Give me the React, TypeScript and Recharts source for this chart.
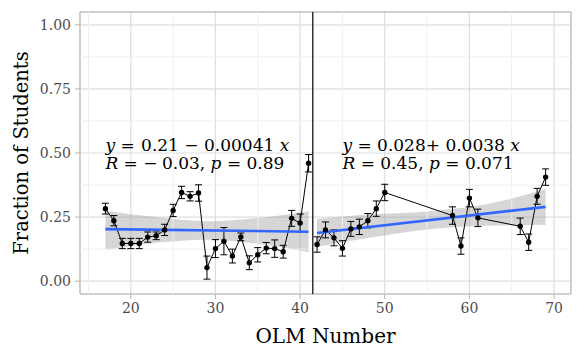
import React from "react";
import {
  ComposedChart,
  Line,
  Area,
  XAxis,
  YAxis,
  CartesianGrid,
  ErrorBar,
  ReferenceLine,
  ReferenceDot,
  ReferenceArea,
} from "recharts";

// observed fraction per OLM number, before the break
const leftX = [17, 18, 19, 20, 21, 22, 23, 24, 25, 26, 27, 28, 29, 30, 31, 32, 33, 34, 35, 36, 37, 38, 39, 40, 41];
const leftY = [0.283, 0.236, 0.147, 0.147, 0.147, 0.172, 0.177, 0.2, 0.276, 0.346, 0.331, 0.344, 0.053, 0.127, 0.156, 0.098, 0.173, 0.072, 0.103, 0.129, 0.127, 0.115, 0.245, 0.227, 0.46];
const leftErr = [0.021, 0.02, 0.02, 0.02, 0.02, 0.02, 0.015, 0.022, 0.024, 0.024, 0.018, 0.032, 0.045, 0.035, 0.053, 0.027, 0.015, 0.027, 0.028, 0.022, 0.034, 0.025, 0.031, 0.035, 0.034];

// after the break
const rightX = [42, 43, 44, 45, 46, 47, 48, 49, 50, 58, 59, 60, 61, 66, 67, 68, 69];
const rightY = [0.143, 0.2, 0.169, 0.128, 0.204, 0.212, 0.236, 0.283, 0.346, 0.256, 0.137, 0.324, 0.247, 0.214, 0.152, 0.331, 0.406];
const rightErr = [0.03, 0.031, 0.031, 0.03, 0.029, 0.03, 0.028, 0.03, 0.032, 0.034, 0.032, 0.034, 0.034, 0.032, 0.032, 0.031, 0.032];

// fitted lines and confidence bands
const leftFitX = [17, 41];
const leftFitY = [0.203, 0.193];
const leftBandX = [17, 23, 29, 35, 41];
const leftBandLo = [0.122, 0.15, 0.162, 0.146, 0.113];
const leftBandHi = [0.275, 0.25, 0.234, 0.246, 0.273];

const rightFitX = [42, 69];
const rightFitY = [0.188, 0.29];
const rightBandX = [42, 48, 55, 62, 69];
const rightBandLo = [0.133, 0.168, 0.202, 0.216, 0.22];
const rightBandHi = [0.243, 0.26, 0.272, 0.3, 0.36];

const breakX = 41.5;
const xTicks = [20, 30, 40, 50, 60, 70];
const xMinor = [15, 25, 35, 45, 55, 65];
const yTicks = [0, 0.25, 0.5, 0.75, 1];
const yMinor = [0.125, 0.375, 0.625, 0.875];

const FONT = "'DejaVu Serif', serif";

const toRows = (xs: number[], ys: number[], es: number[]) =>
  xs.map((x, i) => ({ x, y: ys[i], err: es[i] }));
const toFit = (xs: number[], ys: number[]) => xs.map((x, i) => ({ x, fit: ys[i] }));
const toBand = (xs: number[], lo: number[], hi: number[]) =>
  xs.map((x, i) => ({ x, band: [lo[i], hi[i]] }));

const leftRows = toRows(leftX, leftY, leftErr);
const rightRows = toRows(rightX, rightY, rightErr);

const sp = "\u00a0";
const eqSize = 17;

const It = ({ children, dx }: { children: string; dx?: number }) => (
  <tspan dx={dx} style={{ fontStyle: "italic" }}>
    {children}
  </tspan>
);
const Rm = ({ children, dx }: { children: string; dx?: number }) => (
  <tspan dx={dx}>{children}</tspan>
);

function EqLeft(p: any) {
  return (
    <g fontSize={eqSize} fill="#000">
      <text x={p.cx} y={p.cy}>
        <It>y</It>
        <Rm>{`${sp}=`}</Rm>
        <Rm dx={1}>{`${sp}0.21${sp}−${sp}0.00041${sp}`}</Rm>
        <It>x</It>
      </text>
      <text x={p.cx} y={p.cy + 18}>
        <It>R</It>
        <Rm>{`${sp}=`}</Rm>
        <Rm>{`${sp}−`}</Rm>
        <Rm dx={-1}>{`${sp}0.03,${sp}`}</Rm>
        <It>p</It>
        <Rm>{`${sp}=`}</Rm>
        <Rm>{`${sp}0.89`}</Rm>
      </text>
    </g>
  );
}

function EqRight(p: any) {
  return (
    <g fontSize={eqSize} fill="#000">
      <text x={p.cx} y={p.cy}>
        <It>y</It>
        <Rm>{`${sp}=${sp}0.028+${sp}0.0038${sp}`}</Rm>
        <It>x</It>
      </text>
      <text x={p.cx} y={p.cy + 18}>
        <It>R</It>
        <Rm>{`${sp}=${sp}0.45,${sp}`}</Rm>
        <It>p</It>
        <Rm>{`${sp}=${sp}0.071`}</Rm>
      </text>
    </g>
  );
}

const tickStyle = { fill: "#4d4d4d", fontSize: 14 };

export default function App() {
  return (
    <div
      style={{
        position: "absolute",
        left: 0,
        top: 0,
        width: 583,
        height: 360,
        background: "#fff",
      }}
    >
      <style>{`.recharts-wrapper svg text { font-family: ${FONT} !important; }`}</style>
      <ComposedChart
        width={583}
        height={360}
        margin={{ top: 12, right: 12, bottom: 0, left: 0 }}
      >
        <CartesianGrid stroke="#dedede" strokeWidth={1.2} />
        {xMinor.map((v) => (
          <ReferenceLine key={"mx" + v} x={v} stroke="#efefef" strokeWidth={1} />
        ))}
        {yMinor.map((v) => (
          <ReferenceLine key={"my" + v} y={v} stroke="#efefef" strokeWidth={1} />
        ))}
        <XAxis
          type="number"
          dataKey="x"
          domain={[14, 72]}
          ticks={xTicks}
          allowDataOverflow
          height={66}
          tick={tickStyle}
          tickLine={{ stroke: "#b3b3b3" }}
          axisLine={false}
          tickSize={5}
          tickMargin={4}
          label={{
            value: "OLM Number",
            position: "insideBottom",
            offset: 17,
            fill: "#000",
            fontSize: 20,
          }}
        />
        <YAxis
          type="number"
          domain={[-0.05, 1.05]}
          ticks={yTicks}
          allowDataOverflow
          width={80}
          tick={tickStyle}
          tickLine={{ stroke: "#b3b3b3" }}
          axisLine={false}
          tickSize={5}
          tickMargin={4}
          tickFormatter={(v: number) => v.toFixed(2)}
          label={{
            content: () => (
              <text
                x={28}
                y={153}
                transform="rotate(-90 28 153)"
                textAnchor="middle"
                fontSize={19.5}
                fill="#000"
              >
                Fraction of Students
              </text>
            ),
          }}
        />
        <Line
          data={leftRows}
          dataKey="y"
          stroke="#000"
          strokeWidth={1}
          dot={{ r: 2.7, fill: "#000", stroke: "none" }}
          activeDot={false}
          isAnimationActive={false}
        >
          <ErrorBar dataKey="err" direction="y" width={3.5} stroke="#000" strokeWidth={1} />
        </Line>
        <Line
          data={rightRows}
          dataKey="y"
          stroke="#000"
          strokeWidth={1}
          dot={{ r: 2.7, fill: "#000", stroke: "none" }}
          activeDot={false}
          isAnimationActive={false}
        >
          <ErrorBar dataKey="err" direction="y" width={3.5} stroke="#000" strokeWidth={1} />
        </Line>
        <Area
          data={toBand(leftBandX, leftBandLo, leftBandHi)}
          dataKey="band"
          type="monotone"
          stroke="none"
          fill="#999999"
          fillOpacity={0.4}
          activeDot={false}
          isAnimationActive={false}
        />
        <Area
          data={toBand(rightBandX, rightBandLo, rightBandHi)}
          dataKey="band"
          type="monotone"
          stroke="none"
          fill="#999999"
          fillOpacity={0.4}
          activeDot={false}
          isAnimationActive={false}
        />
        <Line
          data={toFit(leftFitX, leftFitY)}
          dataKey="fit"
          stroke="#3366ff"
          strokeWidth={2.6}
          dot={false}
          activeDot={false}
          isAnimationActive={false}
        />
        <Line
          data={toFit(rightFitX, rightFitY)}
          dataKey="fit"
          stroke="#3366ff"
          strokeWidth={2.6}
          dot={false}
          activeDot={false}
          isAnimationActive={false}
        />
        <ReferenceLine x={breakX} stroke="#000" strokeWidth={1.2} />
        <ReferenceDot x={17} y={0.508} r={0} shape={EqLeft} />
        <ReferenceDot x={45} y={0.508} r={0} shape={EqRight} />
        <ReferenceArea
          x1={14}
          x2={72}
          y1={-0.05}
          y2={1.05}
          fill="none"
          stroke="#b3b3b3"
          strokeWidth={1}
        />
      </ComposedChart>
    </div>
  );
}
